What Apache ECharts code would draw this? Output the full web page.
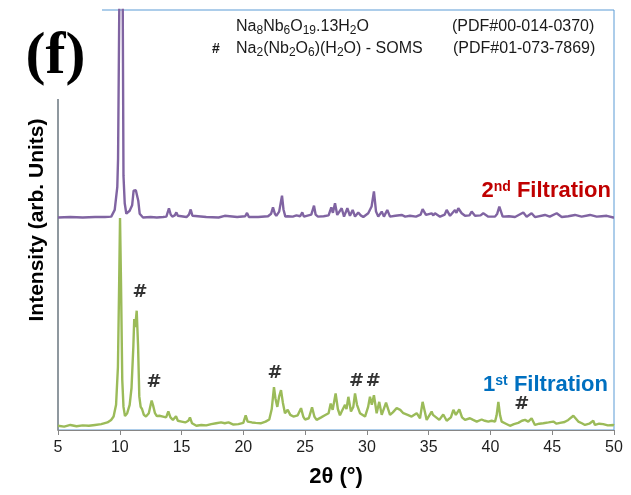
<!DOCTYPE html>
<html>
<head>
<meta charset="utf-8">
<script src="https://cdn.jsdelivr.net/npm/echarts@6/dist/echarts.min.js"></script>
<style>html,body{margin:0;padding:0;background:#fff;}#chart{width:631px;height:495px;}</style>
</head>
<body>
<div id="chart"></div>
<script>
// 2θ positions and intensities (arb. units, 0-100 scale)
var greenTheta = [5.0,5.5,6.0,6.5,7.0,7.5,8.0,8.5,9.0,9.3,9.5,9.7,9.85,9.95,10.02,10.1,10.2,10.3,10.42,10.6,10.8,10.95,11.1,11.17,11.25,11.37,11.48,11.58,11.69,11.8,11.95,12.12,12.35,12.5,12.58,12.7,12.85,13.0,13.2,13.5,13.75,13.93,14.1,14.3,14.55,14.7,15.0,15.3,15.55,15.68,15.85,16.2,16.6,17.0,17.4,17.8,18.2,18.5,18.8,19.2,19.6,20.0,20.19,20.35,20.7,21.0,21.4,21.8,22.1,22.3,22.48,22.6,22.75,22.9,23.05,23.2,23.37,23.59,23.8,24.05,24.4,24.67,24.85,24.99,25.3,25.56,25.75,25.93,26.3,26.6,26.9,27.07,27.23,27.47,27.65,27.82,27.96,28.23,28.35,28.5,28.71,28.9,29.04,29.2,29.44,29.85,30.1,30.25,30.4,30.57,30.79,31.0,31.2,31.55,31.87,32.1,32.41,32.7,32.95,33.3,33.62,34.03,34.3,34.51,34.84,35.24,35.35,35.46,35.86,36.18,36.46,36.8,37.0,37.2,37.48,37.7,37.94,38.34,38.6,38.89,39.29,39.55,39.83,40.1,40.37,40.5,40.64,40.78,40.91,41.25,41.58,41.9,42.25,42.55,42.8,43.06,43.33,43.6,43.95,44.28,44.7,45.09,45.35,45.63,46.0,46.3,46.71,47.11,47.4,47.65,48.0,48.32,48.46,48.8,49.13,49.5,49.94,50.0];
var greenInt = [1.0,0.8,1.2,0.9,1.1,1.0,1.2,1.4,1.8,2.4,3.2,6.0,15,35,50.5,35,12,5.5,3.3,4.0,6.0,10,20,26.4,24.5,28.4,20,8.0,5.5,5.0,3.6,3.2,4.0,6.0,7.0,5.8,4.0,3.3,3.4,3.2,3.0,4.4,3.0,2.4,3.3,2.2,2.0,1.8,2.2,3.0,1.6,1.0,1.2,1.1,1.4,1.6,1.8,1.6,1.8,1.3,1.4,1.7,3.5,2.0,1.8,1.7,1.6,2.0,2.5,5.0,10.2,7.5,5.5,8.0,9.5,6.5,4.0,4.8,3.6,3.2,3.5,5.2,3.2,2.5,2.8,5.4,3.2,2.4,3.0,3.5,4.0,6.3,4.8,8.7,5.0,3.5,4.4,6.0,5.0,7.9,4.4,5.5,8.7,6.0,4.0,3.2,5.5,7.9,6.0,8.3,4.0,6.7,3.6,6.5,3.6,4.2,5.2,4.8,4.0,3.6,3.2,4.0,2.8,6.7,2.4,4.4,3.6,4.0,2.4,3.7,2.2,3.0,4.8,3.6,4.9,3.0,2.4,2.8,2.4,2.0,2.5,2.2,2.0,2.2,2.0,3.5,6.7,3.5,2.0,1.5,1.0,1.4,1.7,2.2,2.4,2.0,2.8,1.2,1.5,1.6,1.8,2.0,1.5,1.7,1.9,2.4,3.4,2.0,1.6,1.2,1.5,2.2,1.2,1.5,1.4,1.1,1.2,1.1];

var purpleTheta = [5.0,6.0,7.0,8.0,8.8,9.31,9.59,9.8,9.86,9.96,10.0,10.2,10.24,10.3,10.4,10.53,10.8,11.0,11.12,11.2,11.3,11.42,11.5,11.61,11.88,12.5,13.0,13.5,13.77,13.98,14.12,14.25,14.45,14.58,14.7,14.85,15.4,15.6,15.74,15.88,16.0,17.0,18.0,18.49,18.65,19.5,20.15,20.3,20.45,21.2,22.0,22.25,22.4,22.55,22.67,22.9,23.05,23.13,23.25,23.4,23.6,24.0,24.3,24.6,24.77,24.9,25.5,25.72,25.85,26.04,26.5,26.9,27.12,27.25,27.42,27.6,27.96,28.15,28.42,28.63,28.85,29.04,29.3,29.5,29.71,30.11,30.38,30.57,30.74,30.92,31.2,31.38,31.65,31.87,32.3,32.81,33.1,33.49,33.97,34.35,34.51,34.78,35.24,35.38,35.51,35.92,36.3,36.46,36.73,37.13,37.25,37.4,37.67,37.94,38.3,38.48,38.75,39.2,39.42,39.83,40.37,40.55,40.72,40.99,41.5,41.99,42.66,42.93,43.33,43.6,44.41,44.8,45.36,45.77,46.3,46.84,47.38,48.06,48.6,49.0,49.41,49.94,50.0];
var purpleInt = [0.1,0.2,0.1,0.2,0.2,0.3,1.9,7.4,14,50,80,80,50,10,3.5,1.0,1.7,3.0,6.5,6.2,6.6,6.5,4.0,1.0,0.1,0.2,0.1,0.2,0.3,2.3,0.8,0.3,0.6,1.3,0.5,0.1,0.2,0.8,2.0,0.5,0.1,0.2,0.1,0.5,0.1,0.2,0.4,1.2,0.2,0.2,0.4,1.0,2.5,1.0,0.5,1.5,4.0,5.3,2.0,0.3,0.4,0.3,0.6,0.4,1.3,0.3,0.8,2.9,0.8,0.3,0.4,0.6,2.5,1.2,3.5,0.7,2.3,0.3,2.3,0.5,1.9,0.3,1.3,0.6,0.2,1.1,2.7,6.3,1.5,0.3,1.5,0.3,1.9,0.3,0.5,0.7,0.3,0.5,0.3,0.8,2.1,0.7,1.1,0.6,1.1,0.3,0.8,1.9,0.5,1.9,1.2,2.3,1.1,0.5,0.6,1.5,0.5,0.6,1.1,0.3,0.3,1.0,2.7,0.3,0.4,0.2,1.3,0.3,1.1,0.2,0.7,0.3,1.1,0.2,0.4,0.7,0.3,0.7,0.3,0.4,0.5,0.1,0.1];
var purpleOffset = 50.5;

// "#" (SOMS) peak markers
var hashTheta = [11.64,12.77,22.56,29.17,30.52,42.53];
var hashInt = [32.7,11.3,13.6,11.5,11.5,6.0];

var xTicks = {min: 5, max: 50, step: 5};

function pairs(xs, ys, off) {
  var out = [];
  for (var i = 0; i < xs.length; i++) out.push([xs[i], ys[i] + (off || 0)]);
  return out;
}

var chart = echarts.init(document.getElementById('chart'), null, {renderer: 'canvas'});
var SANS = '"Liberation Sans", Arial, sans-serif';

chart.setOption({
  animation: false,
  backgroundColor: '#ffffff',
  grid: {left: 58, right: 17, top: 10, bottom: 65, show: true, borderColor: '#5b9bd5', borderWidth: 1, backgroundColor: 'transparent'},
  xAxis: {
    type: 'value', min: xTicks.min, max: xTicks.max, interval: xTicks.step,
    name: '2θ (°)', nameLocation: 'middle', nameGap: 36,
    nameTextStyle: {fontFamily: SANS, fontSize: 22, fontWeight: 'bold', color: '#000'},
    axisLine: {show: true, lineStyle: {color: '#868686', width: 1}},
    axisTick: {show: true, length: 5, lineStyle: {color: '#868686'}},
    axisLabel: {fontFamily: SANS, fontSize: 16, color: '#1f1f1f', margin: 10},
    splitLine: {show: false}
  },
  yAxis: {
    type: 'value', min: 0, max: 100,
    name: 'Intensity (arb. Units)', nameLocation: 'middle', nameGap: 10,
    nameTextStyle: {fontFamily: SANS, fontSize: 21, fontWeight: 'bold', color: '#000'},
    axisLine: {show: true, lineStyle: {color: '#868686', width: 1.5}},
    axisTick: {show: false}, axisLabel: {show: false}, splitLine: {show: false}
  },
  series: [
    {type: 'line', data: pairs(greenTheta, greenInt), symbol: 'none', clip: true,
     lineStyle: {color: '#9bbb59', width: 2.4}, z: 2},
    {type: 'line', data: pairs(purpleTheta, purpleInt, purpleOffset), symbol: 'none', clip: true,
     lineStyle: {color: '#8064a2', width: 2.4}, z: 3},
    {type: 'scatter', data: pairs(hashTheta, hashInt), symbolSize: 1, itemStyle: {color: 'rgba(0,0,0,0)'},
     label: {show: true, position: 'inside', formatter: '#', fontFamily: '"DejaVu Sans", sans-serif', fontSize: 18, fontWeight: 'bold', color: '#000'}, z: 4}
  ],
  graphic: [
    {type: 'rect', left: 0, top: 0, z: 100, shape: {width: 102, height: 99}, style: {fill: '#ffffff'}},
    {type: 'text', x: 55.5, y: 57, z: 101, style: {text: '(f)', font: 'bold 60px "Liberation Serif", "Times New Roman", serif', textAlign: 'center', textVerticalAlign: 'middle', fill: '#000'}},
    {type: 'text', x: 236, y: 27, z: 101, style: {
      text: 'Na{s|8}Nb{s|6}O{s|19}.13H{s|2}O', font: '16px ' + SANS, fill: '#1a1a1a',
      textAlign: 'left', textVerticalAlign: 'middle', lineHeight: 20,
      rich: {s: {fontSize: 12, fontFamily: SANS, lineHeight: 8, verticalAlign: 'bottom', fill: '#1a1a1a'}}}},
    {type: 'text', x: 452, y: 27, z: 101, style: {text: '(PDF#00-014-0370)', font: '16px ' + SANS, fill: '#1a1a1a', textAlign: 'left', textVerticalAlign: 'middle'}},
    {type: 'text', x: 212, y: 49, z: 101, style: {text: '#', font: 'bold 14px ' + SANS, fill: '#1a1a1a', textAlign: 'left', textVerticalAlign: 'middle'}},
    {type: 'text', x: 236, y: 49, z: 101, style: {
      text: 'Na{s|2}(Nb{s|2}O{s|6})(H{s|2}O) - SOMS', font: '16px ' + SANS, fill: '#1a1a1a',
      textAlign: 'left', textVerticalAlign: 'middle', lineHeight: 20,
      rich: {s: {fontSize: 12, fontFamily: SANS, lineHeight: 8, verticalAlign: 'bottom', fill: '#1a1a1a'}}}},
    {type: 'text', x: 453, y: 49, z: 101, style: {text: '(PDF#01-073-7869)', font: '16px ' + SANS, fill: '#1a1a1a', textAlign: 'left', textVerticalAlign: 'middle'}},
    {type: 'text', x: 611, y: 191, z: 101, style: {
      text: '2{p|nd} Filtration', font: 'bold 22px ' + SANS, fill: '#c00000',
      textAlign: 'right', textVerticalAlign: 'middle', lineHeight: 22,
      rich: {p: {fontSize: 14, fontWeight: 'bold', fontFamily: SANS, lineHeight: 14, verticalAlign: 'top', fill: '#c00000'}}}},
    {type: 'text', x: 608, y: 385, z: 101, style: {
      text: '1{p|st} Filtration', font: 'bold 22px ' + SANS, fill: '#0070c0',
      textAlign: 'right', textVerticalAlign: 'middle', lineHeight: 22,
      rich: {p: {fontSize: 14, fontWeight: 'bold', fontFamily: SANS, lineHeight: 14, verticalAlign: 'top', fill: '#0070c0'}}}}
  ]
});
</script>
</body>
</html>
